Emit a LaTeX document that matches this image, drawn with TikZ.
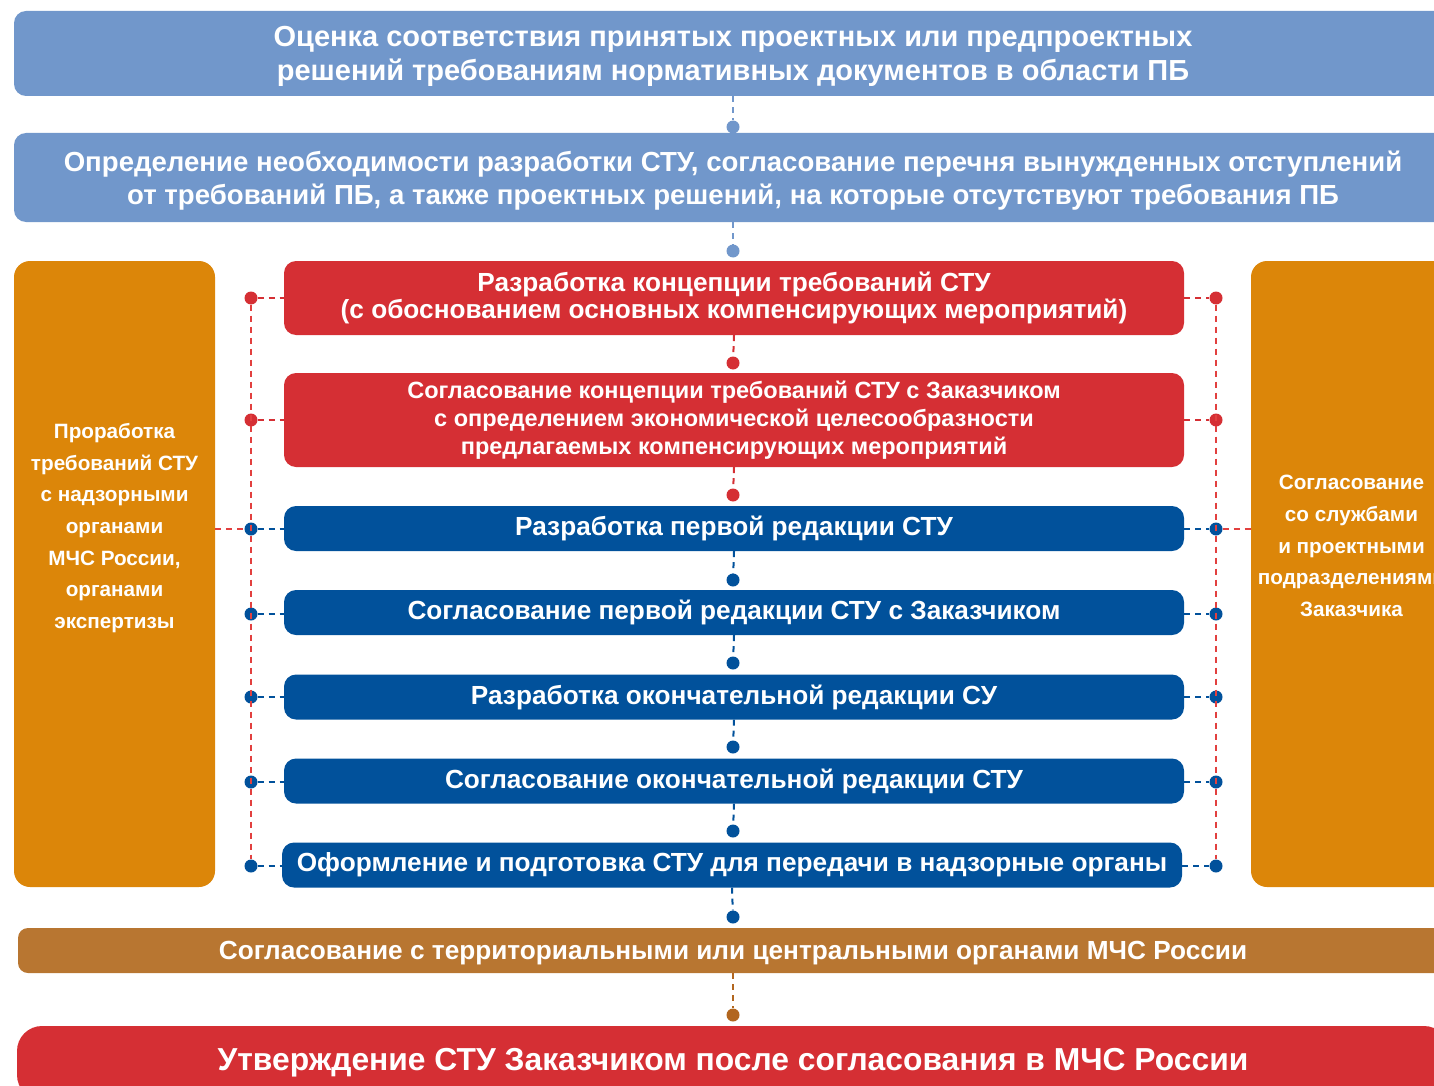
\documentclass[tikz,border=0pt]{standalone}
\usepackage{fontspec}
\setmainfont{Liberation Sans}
\usepackage{xcolor}
\usetikzlibrary{positioning}

\definecolor{pbblue}{HTML}{7197CB}
\definecolor{pbred}{HTML}{D52F34}
\definecolor{pbnavy}{HTML}{01519B}
\definecolor{pborange}{HTML}{DC8609}
\definecolor{pbbrown}{HTML}{B87631}
\definecolor{pbbrowndot}{HTML}{B2661F}
\definecolor{pbdash}{HTML}{E2403F}

\begin{document}
\begin{tikzpicture}[
  x=1pt, y=-1pt,
  bar/.style={fill=#1, rounded corners=12pt, text=white, align=center, inner sep=0pt},
  wide/.style={bar=#1, minimum width=1438pt, font=\bfseries\fontsize{27.6}{33.5}\selectfont},
  stage/.style={bar=#1, minimum width=900pt, font=\bfseries\fontsize{26.2}{27}\selectfont},
  side/.style={bar=pborange, rounded corners=16pt, minimum width=201pt, minimum height=626pt,
    font=\bfseries\fontsize{20.7}{31.7}\selectfont},
  dot/.style={circle, fill=#1, inner sep=0pt, minimum size=13pt},
  dline/.style={draw=#1, line width=2pt, dash pattern=on 6pt off 5pt}
]
  \useasboundingbox (0,0) rectangle (1434,1086);
  \clip (0,0) rectangle (1434,1086);

  % top blocks
  \node[wide=pbblue, minimum height=85pt, font=\bfseries\fontsize{29}{34}\selectfont, text depth=0pt] (assess) at (733,53.5)
    {Оценка соответствия принятых проектных или предпроектных\\решений требованиям нормативных документов в области ПБ};
  \node[wide=pbblue, minimum height=89pt, text depth=0pt] (define) at (733,177.5)
    {Определение необходимости разработки СТУ, согласование перечня вынужденных отступлений\\от требований ПБ, а также проектных решений, на которые отсутствуют требования ПБ};

  % side blocks
  \node[side, text depth=96pt] (supervise) at (114.5,574)
    {Проработка\\требований СТУ\\с надзорными\\органами\\МЧС России,\\органами\\экспертизы};
  \node[side, text depth=56pt] (customer) at (1351.5,574)
    {Согласование\\со службами\\и проектными\\подразделениями\\Заказчика};

  % stages
  \node[stage=pbred, minimum height=74pt] (concept) at (734,298)
    {Разработка концепции требований СТУ\\(с обоснованием основных компенсирующих мероприятий)};
  \node[stage=pbred, minimum height=94pt, font=\bfseries\fontsize{23.5}{28}\selectfont] (agree) at (734,420)
    {Согласование концепции требований СТУ с Заказчиком\\с определением экономической целесообразности\\предлагаемых компенсирующих мероприятий};
  \node[stage=pbnavy, minimum height=45pt] (draft) at (734,528.5) {Разработка первой редакции СТУ};
  \node[stage=pbnavy, minimum height=45pt] (draftok) at (734,612.5) {Согласование первой редакции СТУ с Заказчиком};
  \node[stage=pbnavy, minimum height=45pt] (final) at (734,697) {Разработка окончательной редакции СУ};
  \node[stage=pbnavy, minimum height=45pt] (finalok) at (734,781) {Согласование окончательной редакции СТУ};
  \node[stage=pbnavy, minimum height=45pt] (issue) at (732,865)
    {Оформление и подготовка СТУ для передачи в надзорные органы};

  % bottom blocks
  \node[wide=pbbrown, minimum width=1430pt, minimum height=45pt, rounded corners=10pt,
    font=\bfseries\fontsize{26.2}{30}\selectfont, text depth=0pt] (mchs) at (733,950.5)
    {Согласование с территориальными или центральными органами МЧС России};
  \node[wide=pbred, minimum width=1432pt, minimum height=74pt, rounded corners=25pt,
    font=\bfseries\fontsize{31.8}{36}\selectfont] (approve) at (733,1063)
    {Утверждение СТУ Заказчиком после согласования в МЧС России};

  % dots on the main line
  \node[dot=pbblue] (c1) at (733,127) {};
  \node[dot=pbblue] (c2) at (733,251) {};
  \node[dot=pbred] (c3) at (733,363) {};
  \node[dot=pbred] (c4) at (733,495) {};
  \node[dot=pbnavy] (c5) at (733,580) {};
  \node[dot=pbnavy] (c6) at (733,663) {};
  \node[dot=pbnavy] (c7) at (733,747) {};
  \node[dot=pbnavy] (c8) at (733,831) {};
  \node[dot=pbnavy] (c9) at (733,917) {};
  \node[dot=pbbrowndot] (c10) at (733,1015) {};

  % dots on the side lines
  \node[dot=pbred] (l1) at (251,298) {};
  \node[dot=pbred] (l2) at (251,420) {};
  \node[dot=pbnavy] (l3) at (251,529) {};
  \node[dot=pbnavy] (l4) at (251,614) {};
  \node[dot=pbnavy] (l5) at (251,697) {};
  \node[dot=pbnavy] (l6) at (251,782) {};
  \node[dot=pbnavy] (l7) at (251,866) {};
  \node[dot=pbred] (r1) at (1216,298) {};
  \node[dot=pbred] (r2) at (1216,420) {};
  \node[dot=pbnavy] (r3) at (1216,529) {};
  \node[dot=pbnavy] (r4) at (1216,614) {};
  \node[dot=pbnavy] (r5) at (1216,697) {};
  \node[dot=pbnavy] (r6) at (1216,782) {};
  \node[dot=pbnavy] (r7) at (1216,866) {};

  % main line
  \draw[dline=pbblue] (assess.south) -- (c1);
  \draw[dline=pbblue] (define.south) -- (c2);
  \draw[dline=pbred] (concept.south) -- (c3);
  \draw[dline=pbred] (agree.south) -- (c4);
  \draw[dline=pbnavy] (draft.south) -- (c5);
  \draw[dline=pbnavy] (draftok.south) -- (c6);
  \draw[dline=pbnavy] (final.south) -- (c7);
  \draw[dline=pbnavy] (finalok.south) -- (c8);
  \draw[dline=pbnavy] (issue.south) -- (c9);
  \draw[dline=pbbrowndot] (mchs.south) -- (c10);

  % side lines
  \draw[dline=pbdash] (l1) -- (l7);
  \draw[dline=pbdash] (r1) -- (r7);
  \draw[dline=pbdash] (l3 -| supervise.east) -- (l3);
  \draw[dline=pbdash] (r3) -- (r3 -| customer.west);
  \draw[dline=pbred] (l1) -- (l1 -| concept.west);
  \draw[dline=pbred] (l2) -- (l2 -| agree.west);
  \draw[dline=pbnavy] (l3) -- (l3 -| draft.west);
  \draw[dline=pbnavy] (l4) -- (l4 -| draftok.west);
  \draw[dline=pbnavy] (l5) -- (l5 -| final.west);
  \draw[dline=pbnavy] (l6) -- (l6 -| finalok.west);
  \draw[dline=pbnavy] (l7) -- (l7 -| issue.west);
  \draw[dline=pbred] (r1 -| concept.east) -- (r1);
  \draw[dline=pbred] (r2 -| agree.east) -- (r2);
  \draw[dline=pbnavy] (r3 -| draft.east) -- (r3);
  \draw[dline=pbnavy] (r4 -| draftok.east) -- (r4);
  \draw[dline=pbnavy] (r5 -| final.east) -- (r5);
  \draw[dline=pbnavy] (r6 -| finalok.east) -- (r6);
  \draw[dline=pbnavy] (r7 -| issue.east) -- (r7);
\end{tikzpicture}
\end{document}
